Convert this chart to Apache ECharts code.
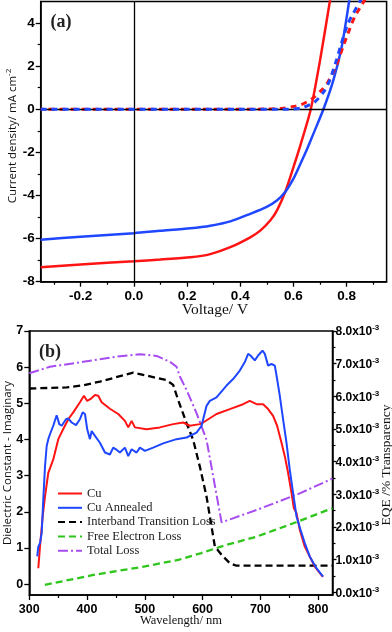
<!DOCTYPE html>
<html><head><meta charset="utf-8">
<script src="https://cdn.jsdelivr.net/npm/echarts@6/dist/echarts.min.js"></script>
<style>html,body{margin:0;padding:0;background:#fff}#c{width:392px;height:632px}</style>
</head><body><div id="c"></div><script>
// ---------- Panel (a): J-V curves ----------
const vTicks = [-0.2, 0, 0.2, 0.4, 0.6, 0.8];
const vMinor = [-0.3, -0.1, 0.1, 0.3, 0.5, 0.7, 0.9];
const jTicks = [-8, -6, -4, -2, 0, 2, 4];
const jMinor = [-7, -5, -3, -1, 1, 3];

const cuV  = [-0.35, -0.2, 0, 0.1, 0.2126, 0.2876, 0.3626, 0.4376, 0.475, 0.5126, 0.5376, 0.5688, 0.6, 0.625, 0.665, 0.70, 0.7376, 0.75];
const cuJ  = [-7.33, -7.2, -7.05, -6.97, -6.87, -6.72, -6.40, -5.94, -5.63, -5.16, -4.70, -3.84, -2.68, -1.71, 0, 2.28, 5.07, 6];
const annV = [-0.35, -0.2, 0, 0.1, 0.2126, 0.2876, 0.3626, 0.4376, 0.4976, 0.5376, 0.5688, 0.6, 0.625, 0.65, 0.675, 0.7126, 0.75, 0.7813, 0.81, 0.82];
const annJ = [-6.05, -5.91, -5.75, -5.64, -5.52, -5.40, -5.20, -4.85, -4.54, -4.23, -3.84, -3.22, -2.56, -1.88, -1.13, 0, 1.35, 2.90, 5.07, 5.9];
const cuDarkV  = [-0.35, 0.3, 0.5, 0.5551, 0.5926, 0.63, 0.6676, 0.705, 0.73, 0.7613, 0.7863, 0.805, 0.83, 0.8676, 0.88];
const cuDarkJ  = [0, 0, 0.01, 0.04, 0.11, 0.22, 0.47, 0.88, 1.27, 2.05, 2.90, 3.52, 4.29, 5.07, 5.4];
const annDarkV = [-0.35, 0.4, 0.58, 0.63, 0.68, 0.7176, 0.7363, 0.7613, 0.78, 0.805, 0.8526, 0.87];
const annDarkJ = [0, 0, 0, 0.06, 0.34, 0.88, 1.35, 2.28, 3.05, 3.98, 5.07, 5.5];

// ---------- Panel (b): spectra ----------
const wlTicks = [300, 400, 500, 600, 700, 800];
const wlMinor = [350, 450, 550, 650, 750];
const epsTicks = [0, 1, 2, 3, 4, 5, 6, 7];
const eqeTicks = [0, 1, 2, 3, 4, 5, 6, 7, 8];            // x10^-3
const eqeMinor = [0.5, 1.5, 2.5, 3.5, 4.5, 5.5, 6.5, 7.5];

const cuWl  = [315.6, 318.5, 323.2, 327.2, 332.9, 341.5, 350.2, 358.8, 367.5, 376.1, 387.7, 394.6, 400.3, 406.2, 413.7, 419.4, 425.3, 439.6, 454, 465.6, 471.3, 477.2, 482.9, 503.1, 526.1, 549.1, 566.4, 578, 595.3, 601, 624.2, 647.2, 670.2, 681.8, 693.4, 704.8, 713.5, 722.1, 729.1, 736.7, 742.4, 748.1, 754, 758, 762.6, 768.3, 777, 785.6, 794.3, 805.9, 808.6];
const cuEQE = [0.74, 1.40, 2.33, 2.94, 3.66, 4.07, 4.69, 5.0, 5.30, 5.51, 5.82, 6.02, 5.86, 5.92, 6.04, 6.02, 5.82, 5.62, 5.46, 5.25, 5.05, 5.25, 5.05, 4.99, 5.05, 5.15, 5.2, 5.1, 5.15, 5.2, 5.46, 5.61, 5.76, 5.86, 5.76, 5.76, 5.61, 5.40, 5.1, 4.58, 4.17, 3.66, 3.05, 2.58, 2.43, 1.92, 1.40, 1.10, 0.79, 0.53, 0.48];
const annWl  = [313.8, 315.6, 318.5, 321.5, 324.2, 327.2, 330.1, 332.9, 335.8, 341.5, 347.4, 351.9, 356.1, 363.5, 367.5, 373.4, 380.8, 387.7, 392.4, 396.4, 400.3, 405, 408, 413.7, 422.3, 431, 439.6, 445.3, 450, 456.9, 465.6, 471.3, 477.2, 485.8, 491.5, 500.2, 514.5, 531.8, 555, 572.3, 589.6, 598.3, 606.9, 612.6, 624.2, 641.5, 652.9, 664.5, 673.2, 678.9, 683, 690.5, 696.2, 703.8, 707.8, 713.5, 719.4, 725.1, 729.1, 733.7, 739.4, 745.3, 751, 756.7, 762.6, 769.5, 777, 785.6, 797.2, 808.6];
const annEQE = [1.10, 1.40, 1.51, 1.82, 2.84, 3.86, 4.48, 4.69, 4.84, 5.10, 5.42, 5.15, 5.10, 5.30, 5.32, 5.2, 5.12, 5.30, 5.51, 5.46, 4.99, 4.69, 4.94, 4.79, 4.58, 4.28, 4.22, 4.43, 4.38, 4.28, 4.43, 4.17, 4.38, 4.28, 4.43, 4.33, 4.43, 4.56, 4.69, 4.74, 4.89, 5.10, 5.71, 5.86, 5.97, 6.33, 6.53, 6.79, 7.05, 7.30, 7.25, 7.10, 7.25, 7.40, 7.30, 6.94, 6.99, 6.94, 6.53, 6.02, 5.30, 4.58, 3.76, 3.05, 2.33, 1.92, 1.51, 1.10, 0.74, 0.48];
const ibWl  = [300, 364.7, 393.4, 422.3, 479.9, 537.7, 549.1, 557.8, 572.3, 583.7, 595.3, 606.9, 615.6, 621.3, 632.9, 647.2, 658.8, 825];
const ibEps = [5.41, 5.44, 5.50, 5.60, 5.85, 5.64, 5.51, 5.09, 4.45, 3.99, 3.25, 2.42, 1.59, 1.04, 0.81, 0.58, 0.51, 0.51];
const feWl  = [327, 413, 500, 558, 598, 640, 693, 750, 825];
const feEps = [-0.02, 0.26, 0.49, 0.67, 0.86, 1.08, 1.31, 1.64, 2.10];
const tlWl  = [300, 335.8, 393.4, 451.2, 491.5, 520.4, 543.4, 555, 560.7, 572.3, 589.6, 606.9, 632.9, 693.4, 768.3, 825];
const tlEps = [5.83, 6.01, 6.15, 6.29, 6.36, 6.31, 6.15, 6.01, 5.74, 5.37, 4.73, 3.99, 1.71, 2.05, 2.51, 2.92];

const pairs = (xs, ys) => xs.map((x, i) => [x, ys[i]]);

const RED = '#ff1414', BLUE = '#1f47ff', GREEN = '#2ec61a', PURPLE = '#a64cf0', BLACK = '#000';
const SANS = '"Liberation Sans", Arial, sans-serif';
const SERIF = '"Liberation Serif", "Times New Roman", serif';
const AX = { color: '#000', width: 1.5 };

function mainAxis(extra) {
  return Object.assign({
    type: 'value', splitLine: { show: false },
    axisLine: { show: true, onZero: false, lineStyle: AX },
  }, extra);
}
function minorAxis(extra, vals) {
  return Object.assign({
    type: 'value', splitLine: { show: false },
    axisLine: { show: false, onZero: false },
    axisLabel: { show: false },
    axisTick: { show: true, customValues: vals, length: 3, inside: false, lineStyle: { color: '#000', width: 1.2 } },
  }, extra);
}
const tick = (vals, len) => ({ show: true, customValues: vals, length: len, inside: false, lineStyle: { color: '#000', width: 1.3 } });

const option = {
  animation: false,
  backgroundColor: '#fff',
  grid: [
    { left: 40.7, top: 1.5, width: 345.9, height: 280.2, show: true, borderColor: '#000', borderWidth: 1.5, backgroundColor: 'transparent' },
    { left: 29.3, top: 331, width: 303.2, height: 264, show: true, borderColor: '#000', borderWidth: 1.5, backgroundColor: 'transparent' }
  ],
  xAxis: [
    mainAxis({ gridIndex: 0, min: -0.35, max: 0.95, position: 'bottom',
      axisTick: tick(vTicks, 5),
      axisLabel: { customValues: vTicks, formatter: v => v.toFixed(1), margin: 8, color: '#000', fontFamily: SANS, fontWeight: 'bold', fontSize: 13.5 } }),
    minorAxis({ gridIndex: 0, min: -0.35, max: 0.95, position: 'bottom' }, vMinor),
    mainAxis({ gridIndex: 1, min: 300, max: 825, position: 'bottom',
      axisTick: tick(wlTicks, 5),
      axisLabel: { customValues: wlTicks, formatter: v => String(v), margin: 8, color: '#000', fontFamily: SANS, fontWeight: 'bold', fontSize: 12.5 } }),
    minorAxis({ gridIndex: 1, min: 300, max: 825, position: 'bottom' }, wlMinor)
  ],
  yAxis: [
    mainAxis({ gridIndex: 0, min: -8, max: 5, position: 'left',
      axisTick: tick(jTicks, 5),
      axisLabel: { customValues: jTicks, formatter: v => String(v), margin: 6, color: '#000', fontFamily: SANS, fontWeight: 'bold', fontSize: 13.5 } }),
    minorAxis({ gridIndex: 0, min: -8, max: 5, position: 'left' }, jMinor),
    mainAxis({ gridIndex: 1, min: -0.3, max: 7, position: 'left',
      axisTick: tick(epsTicks, 5),
      axisLabel: { customValues: epsTicks, formatter: v => String(v), margin: 6, color: '#000', fontFamily: SANS, fontWeight: 'bold', fontSize: 12.5 } }),
    mainAxis({ gridIndex: 1, min: -0.08, max: 8, position: 'right',
      axisTick: tick(eqeTicks, 4),
      axisLabel: { customValues: eqeTicks, margin: 3, color: '#000',
        formatter: v => '{n|' + v.toFixed(1) + 'x10}{s|-3}',
        rich: { n: { fontFamily: SANS, fontWeight: 'bold', fontSize: 12, color: '#000', verticalAlign: 'bottom', lineHeight: 14 },
                s: { fontFamily: SANS, fontWeight: 'bold', fontSize: 8, color: '#000', verticalAlign: 'top', lineHeight: 14 } } } }),
    minorAxis({ gridIndex: 1, min: -0.08, max: 8, position: 'right' }, eqeMinor)
  ],
  legend: {
    orient: 'vertical', left: 52, top: 482, itemWidth: 24, itemHeight: 14, itemGap: 1.3,
    itemStyle: { opacity: 0 },
    textStyle: { fontFamily: SERIF, fontSize: 12.5, color: '#222' },
    data: ['Cu', 'Cu Annealed', 'Interband Transition Loss', 'Free Electron Loss', 'Total Loss']
  },
  series: [
    { name: 'Cu (light)', type: 'line', xAxisIndex: 0, yAxisIndex: 0, showSymbol: false, symbol: 'none', smooth: 0.25, z: 2,
      data: pairs(cuV, cuJ), lineStyle: { color: RED, width: 2.5 },
      markLine: { silent: true, symbol: ['none', 'none'], label: { show: false }, animation: false,
        lineStyle: { color: '#000', type: 'solid', width: 1.3 }, data: [{ xAxis: 0 }, { yAxis: 0 }] } },
    { name: 'Cu Annealed (light)', type: 'line', xAxisIndex: 0, yAxisIndex: 0, showSymbol: false, symbol: 'none', smooth: 0.25, z: 3,
      data: pairs(annV, annJ), lineStyle: { color: BLUE, width: 2.5 } },
    { name: 'Cu (dark)', type: 'line', xAxisIndex: 0, yAxisIndex: 0, showSymbol: false, symbol: 'none', smooth: 0.25, z: 4,
      data: pairs(cuDarkV, cuDarkJ), lineStyle: { color: RED, width: 3, type: [6, 5], dashOffset: 3 } },
    { name: 'Cu Annealed (dark)', type: 'line', xAxisIndex: 0, yAxisIndex: 0, showSymbol: false, symbol: 'none', smooth: 0.25, z: 5,
      data: pairs(annDarkV, annDarkJ), lineStyle: { color: BLUE, width: 3, type: [6, 5] } },

    { name: 'Interband Transition Loss', type: 'line', xAxisIndex: 2, yAxisIndex: 2, showSymbol: false, symbol: 'none', z: 2,
      data: pairs(ibWl, ibEps), itemStyle: { color: BLACK }, lineStyle: { color: BLACK, width: 2.3, type: [7, 4] } },
    { name: 'Free Electron Loss', type: 'line', xAxisIndex: 2, yAxisIndex: 2, showSymbol: false, symbol: 'none', z: 2,
      data: pairs(feWl, feEps), itemStyle: { color: GREEN }, lineStyle: { color: GREEN, width: 2.3, type: [7, 4] } },
    { name: 'Total Loss', type: 'line', xAxisIndex: 2, yAxisIndex: 2, showSymbol: false, symbol: 'none', z: 2,
      data: pairs(tlWl, tlEps), itemStyle: { color: PURPLE }, lineStyle: { color: PURPLE, width: 2, type: [10, 3, 2, 3] } },
    { name: 'Cu', type: 'line', xAxisIndex: 2, yAxisIndex: 3, showSymbol: false, symbol: 'none', z: 3,
      data: pairs(cuWl, cuEQE), itemStyle: { color: RED }, lineStyle: { color: RED, width: 2 } },
    { name: 'Cu Annealed', type: 'line', xAxisIndex: 2, yAxisIndex: 3, showSymbol: false, symbol: 'none', z: 4,
      data: pairs(annWl, annEQE), itemStyle: { color: BLUE }, lineStyle: { color: BLUE, width: 2 } }
  ],
  graphic: [
    { type: 'text', x: 61, y: 22, style: { text: '(a)', font: 'bold 18px ' + SERIF, fill: '#222', align: 'center', verticalAlign: 'middle' } },
    { type: 'text', x: 50, y: 352, style: { text: '(b)', font: 'bold 18px ' + SERIF, fill: '#222', align: 'center', verticalAlign: 'middle' } },
    { type: 'text', x: 215, y: 310, style: { text: 'Voltage/ V', font: '15.5px ' + SERIF, fill: '#111', align: 'center', verticalAlign: 'middle' } },
    { type: 'text', x: 181, y: 621, style: { text: 'Wavelength/ nm', font: '12.5px ' + SERIF, fill: '#111', align: 'center', verticalAlign: 'middle' } },
    { type: 'text', x: 12, y: 136, rotation: Math.PI / 2,
      style: { text: '{n|Current density/ mA cm}{s|-2}', align: 'center', verticalAlign: 'middle',
        rich: { n: { fontFamily: '"Open Sans", sans-serif', fontSize: 11.5, fill: '#111', verticalAlign: 'bottom', lineHeight: 14 },
                s: { fontFamily: '"Open Sans", sans-serif', fontSize: 8, fill: '#111', verticalAlign: 'top', lineHeight: 14 } } } },
    { type: 'text', x: 8, y: 463, rotation: Math.PI / 2,
      style: { text: 'Dielectric Constant - Imaginary', font: '11.5px "Open Sans", sans-serif', fill: '#111', align: 'center', verticalAlign: 'middle' } },
    { type: 'text', x: 386, y: 465, rotation: Math.PI / 2,
      style: { text: 'EQE /% Transparency', font: '13.5px ' + SERIF, fill: '#111', align: 'center', verticalAlign: 'middle' } }
  ]
};
const chart = echarts.init(document.getElementById('c'));
chart.setOption(option);
</script></body></html>
